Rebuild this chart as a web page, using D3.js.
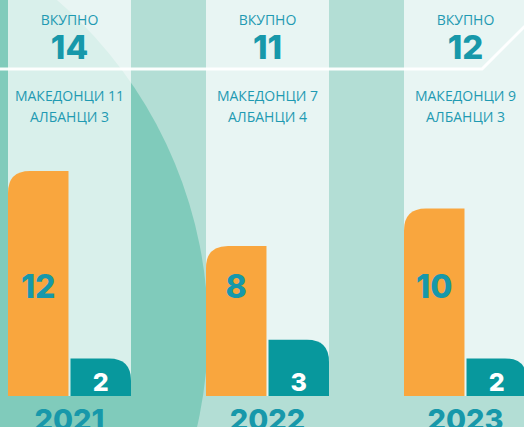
<!DOCTYPE html>
<html>
<head>
<meta charset="utf-8">
<script src="https://cdn.jsdelivr.net/npm/d3@7"></script>
<style>
  html, body { margin: 0; padding: 0; background: #b3ded5; }
  svg { display: block; }
  .lbl { font-family: "Open Sans", sans-serif; font-size: 14px; fill: #1f9ab2; }
  .num { font-family: Inter, sans-serif; font-weight: 800; }
</style>
</head>
<body>
<svg width="524" height="427"></svg>
<script>
// data
var years = ["2021", "2022", "2023"];
var totals = [14, 11, 12];
var macedonians = [11, 7, 9];
var albanians = [3, 4, 3];
var barMk = [12, 8, 10];
var barAl = [2, 3, 2];
var groups = ["mk", "al"];

var W = 524, H = 427;
var base = 396;
var teal = "#1798aa";

var svg = d3.select("svg");

// background: medium teal with a big darker circle on the left
svg.append("rect").attr("width", W).attr("height", H).attr("fill", "#b3ded5");
svg.append("circle").attr("cx", -228).attr("cy", 330).attr("r", 436).attr("fill", "#80cbbb");

var step = 198, panelW = 123;
var x = d3.scaleBand()
    .domain(years)
    .range([8, 8 + step * 2 + panelW])
    .paddingInner((step - panelW) / step)
    .paddingOuter(0);

var xs = d3.scaleBand().domain(groups).range([0, x.bandwidth()]).paddingInner(4 / panelW);

var y = d3.scaleLinear().domain([0, 12]).range([base, base - 225]);

var rows = years.map(function(yr, i) {
    return { year: yr, total: totals[i], mk: macedonians[i], al: albanians[i], bmk: barMk[i], bal: barAl[i] };
});

// light panels
svg.selectAll("rect.panel").data(rows).enter().append("rect")
    .attr("class", "panel")
    .attr("x", function(d) { return x(d.year); })
    .attr("y", 0)
    .attr("width", x.bandwidth())
    .attr("height", base)
    .attr("fill", "#fff")
    .attr("fill-opacity", 0.7);

// white separator line
svg.append("path")
    .attr("d", "M0,69H482L545,6")
    .attr("fill", "none")
    .attr("stroke", "#fff")
    .attr("stroke-width", 3)
    .attr("stroke-opacity", 0.95);

// bar with one rounded top corner
function roundBar(x0, w, top, r, left) {
    var b = base, x1 = x0 + w;
    r = Math.min(r, b - top, w);
    if (left) {
        return "M" + x0 + "," + b + "V" + (top + r) + "Q" + x0 + "," + top + " " + (x0 + r) + "," + top +
            "H" + x1 + "V" + b + "Z";
    }
    return "M" + x0 + "," + b + "V" + top + "H" + (x1 - r) + "Q" + x1 + "," + top + " " + x1 + "," + (top + r) +
        "V" + b + "Z";
}

var g = svg.selectAll("g.year").data(rows).enter().append("g")
    .attr("class", "year")
    .attr("transform", function(d) { return "translate(" + x(d.year) + ",0)"; });

g.append("path")
    .attr("fill", "#f9a63e")
    .attr("d", function(d) { return roundBar(xs("mk"), xs.bandwidth(), y(d.bmk), 22, true); });

g.append("path")
    .attr("fill", "#08989d")
    .attr("d", function(d) { return roundBar(xs("al"), xs.bandwidth(), y(d.bal), 22, false); });

var cx = x.bandwidth() / 2;

g.append("text").attr("class", "lbl")
    .attr("x", cx).attr("y", 25).attr("text-anchor", "middle")
    .text("ВКУПНО");

g.append("text").attr("class", "num")
    .attr("x", cx).attr("y", 59).attr("text-anchor", "middle")
    .attr("font-size", 33).attr("fill", teal)
    .text(function(d) { return d.total; });

g.append("text").attr("class", "lbl")
    .attr("x", cx).attr("y", 101).attr("text-anchor", "middle")
    .text(function(d) { return "МАКЕДОНЦИ " + d.mk; });

g.append("text").attr("class", "lbl")
    .attr("x", cx).attr("y", 122).attr("text-anchor", "middle")
    .text(function(d) { return "АЛБАНЦИ " + d.al; });

// value labels
g.append("text").attr("class", "num")
    .attr("x", xs("mk") + xs.bandwidth() / 2).attr("y", 298).attr("text-anchor", "middle")
    .attr("font-size", 32).attr("fill", teal)
    .text(function(d) { return d.bmk; });

g.append("text").attr("class", "num")
    .attr("x", xs("al") + xs.bandwidth() / 2).attr("y", 391).attr("text-anchor", "middle")
    .attr("font-size", 25).attr("fill", "#fff")
    .text(function(d) { return d.bal; });

// year labels (cut by the bottom edge, as in the original)
g.append("text").attr("class", "num")
    .attr("x", cx).attr("y", 430).attr("text-anchor", "middle")
    .attr("font-size", 29).attr("fill", teal)
    .text(function(d) { return d.year; });
</script>
</body>
</html>
